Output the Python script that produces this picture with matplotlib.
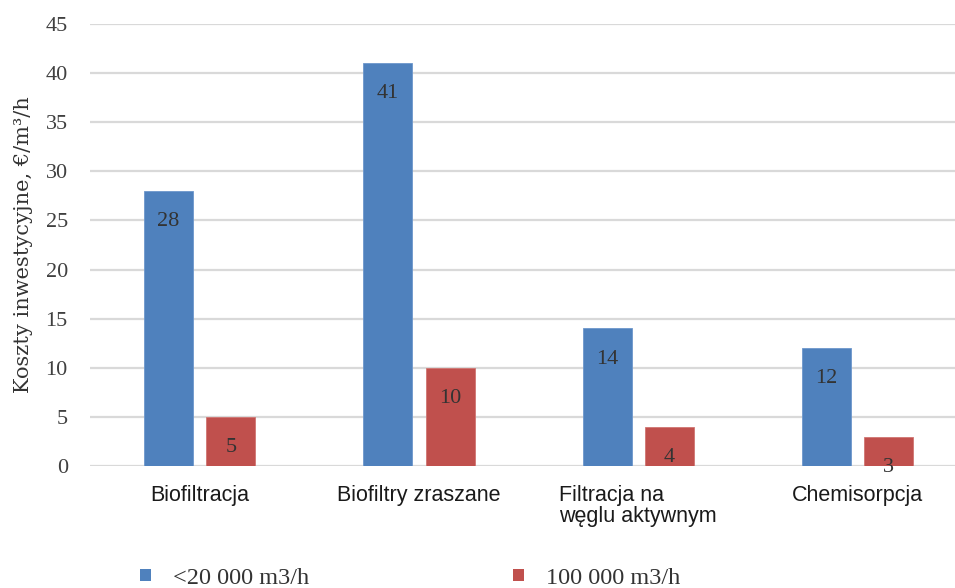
import matplotlib
matplotlib.use("Agg")
import matplotlib.pyplot as plt
import numpy as np
from matplotlib.patches import Patch

categories = ["Biofiltracja", "Biofiltry zraszane", "Filtracja na\nwęglu aktywnym", "Chemisorpcja"]
small_flow = [28, 41, 14, 12]
large_flow = [5, 10, 4, 3]
series_names = ["<20 000 m3/h", "100 000 m3/h"]
yticks = [0, 5, 10, 15, 20, 25, 30, 35, 40, 45]

BLUE = "#4F81BD"
RED = "#C0504D"
SERIF = "Liberation Serif"
SANS = "Liberation Sans"

fig = plt.figure(figsize=(9.55, 5.88), dpi=100)
ax = fig.add_axes([90/955, 1 - 466/588, 1 - 90/955, (466 - 24)/588])

x = np.arange(len(categories))
w = 0.224
off = 0.142
b1 = ax.bar(x - off, small_flow, w, color=BLUE, edgecolor="#6d97cc", linewidth=0.6, zorder=3)
b2 = ax.bar(x + off, large_flow, w, color=RED, edgecolor="#d07572", linewidth=0.6, zorder=3)

for bars, vals in ((b1, small_flow), (b2, large_flow)):
    for rect, v in zip(bars, vals):
        ax.annotate(str(v), (rect.get_x() + rect.get_width()/2, v),
                    xytext=(0, -22), textcoords="offset points",
                    ha="center", va="center", fontsize=16, family=SERIF,
                    color="#333333", zorder=4)

ax.set_xlim(-0.5, -0.5 + 865/219.3)
ax.set_ylim(0, 45)
ax.set_yticks(yticks)
ax.yaxis.grid(True, color="#d9d9d9", linewidth=1.6, zorder=0)
ax.set_axisbelow(True)
for s in ax.spines.values():
    s.set_visible(False)
ax.tick_params(axis="y", length=0, pad=16, labelsize=16, labelcolor="#404040")
for lab in ax.get_yticklabels():
    lab.set_family(SERIF)
ax.set_xticks(x)
ax.set_xticklabels(categories, family=SANS, fontsize=15.5, color="#1a1a1a",
                   multialignment="left", va="top", linespacing=0.95)
ax.tick_params(axis="x", length=0, pad=14)
ax.set_ylabel("Koszty inwestycyjne, €/m³/h", family="DejaVu Serif", fontsize=15,
              color="#333333")
ax.yaxis.set_label_coords(-(90 - 33) / 865, 0.5)

for i, (name, col) in enumerate(zip(series_names, [BLUE, RED])):
    xpos = [121, 494][i]
    leg = fig.legend([Patch(facecolor=col)], [name], loc="center left",
                     bbox_to_anchor=(xpos/955, 1 - 578/588), frameon=False,
                     handlelength=0.42, handleheight=0.42, handletextpad=0.9,
                     borderpad=0.3, prop={"family": SERIF, "size": 17.5})
    leg.get_texts()[0].set_color("#333333")

fig.savefig("out.png", dpi=100)
